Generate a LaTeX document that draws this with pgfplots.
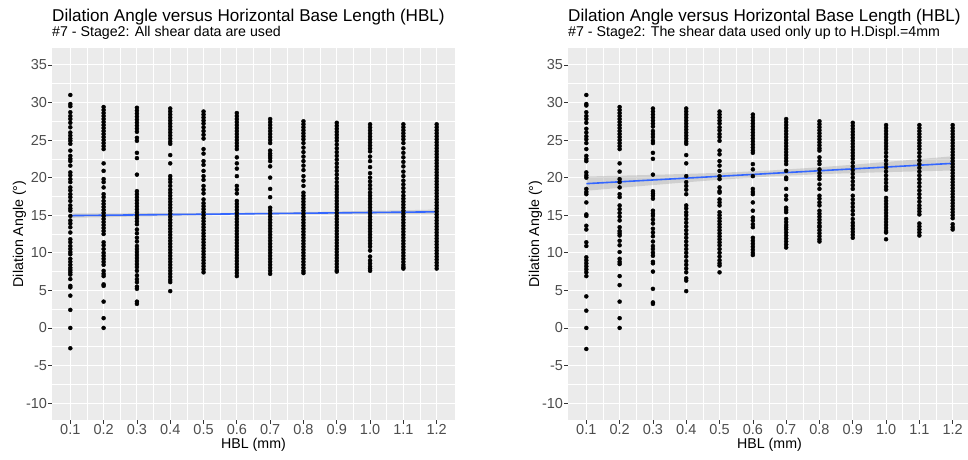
\documentclass[border=0pt]{standalone}
\usepackage{pgfplots}
\pgfplotsset{compat=1.18}
\usepackage{fontspec}
\setmainfont{Liberation Sans}
\definecolor{ggbg}{HTML}{EBEBEB}
\definecolor{gg30}{HTML}{4D4D4D}
\definecolor{gg20}{HTML}{333333}
\definecolor{ggblue}{HTML}{3366FF}
\newcommand\col[2]{\addplot[only marks,mark=*,mark size=2pt,black] table[x expr=#1,y index=0,header=false,row sep=\\]{#2};}
\pgfplotsset{gg/.style={
  scale only axis, width=403pt, height=372pt,
  xmin=0.045, xmax=1.255, ymin=-12.25, ymax=37.25,
  axis background/.style={fill=ggbg},
  axis line style={draw=none},
  xtick={0.1,0.2,0.3,0.4,0.5,0.6,0.7,0.8,0.9,1.0,1.1,1.2},
  xticklabels={0.1,0.2,0.3,0.4,0.5,0.6,0.7,0.8,0.9,1.0,1.1,1.2},
  ytick={-10,-5,0,5,10,15,20,25,30,35},
  yticklabels={-10,-5,0,5,10,15,20,25,30,35},
  minor xtick={0.15,0.25,0.35,0.45,0.55,0.65,0.75,0.85,0.95,1.05,1.15},
  minor ytick={-7.5,-2.5,2.5,7.5,12.5,17.5,22.5,27.5,32.5},
  grid=both,
  major grid style={white,line width=1.1pt},
  minor grid style={white,line width=0.55pt},
  tick align=outside, tick pos=left,
  major tick length=3.6pt, minor tick length=0pt,
  major tick style={gg20,line width=0.7pt},
  tick label style={font=\fontsize{14.5}{15}\selectfont, text=gg30},
  yticklabel style={inner sep=1.2pt},
  xticklabel style={anchor=base,yshift=-11pt},
  label style={font=\fontsize{14.2}{15}\selectfont},
  xlabel={HBL (mm)}, ylabel={Dilation Angle (°)},
  xlabel style={at={(axis description cs:0.5,0)},anchor=base,yshift=-28pt},
  ylabel style={at={(axis description cs:0,0.5)},anchor=base,yshift=29pt},
}}
\begin{document}
\begin{tikzpicture}
\path[use as bounding box] (0,0) rectangle (968pt,459pt);
\clip (0,0) rectangle (968pt,459pt);
\node[anchor=base west,inner sep=0,font=\fontsize{17.1}{18}\selectfont] at (52pt,437.3pt) {Dilation Angle versus Horizontal Base Length (HBL)};
\node[anchor=base west,inner sep=0,font=\fontsize{14.2}{15}\selectfont] at (52pt,422.3pt) {\#7 - Stage2: All shear data are used};
\node[anchor=base west,inner sep=0,font=\fontsize{17.1}{18}\selectfont] at (568pt,437.3pt) {Dilation Angle versus Horizontal Base Length (HBL)};
\node[anchor=base west,inner sep=0,font=\fontsize{14.2}{15}\selectfont] at (568pt,422.3pt) {\#7 - Stage2: The shear data used only up to H.Displ.=4mm};

\begin{axis}[gg, at={(52pt,39pt)}, anchor=south west]
\col{0.1}{31.0\\29.8\\29.5\\28.7\\28.2\\27.8\\27.3\\26.7\\26.0\\25.6\\25.2\\24.9\\24.5\\23.6\\22.9\\22.5\\22.2\\21.6\\20.7\\20.3\\19.8\\19.4\\18.7\\18.3\\17.8\\17.4\\16.9\\16.3\\15.9\\15.6\\14.9\\14.3\\13.9\\13.4\\12.7\\11.8\\11.4\\10.9\\10.5\\10.1\\9.8\\9.2\\8.8\\8.4\\8.0\\7.7\\7.4\\7.1\\6.5\\5.6\\5.4\\4.3\\2.4\\0.0\\-2.7\\}
\col{0.2}{29.4\\29.0\\28.6\\28.2\\27.8\\27.4\\27.0\\26.6\\26.2\\25.8\\25.4\\25.0\\24.6\\24.2\\23.8\\21.9\\20.9\\19.8\\19.4\\18.7\\17.8\\17.4\\16.9\\16.5\\16.1\\15.7\\15.3\\14.9\\14.5\\14.1\\13.7\\13.3\\12.9\\12.5\\11.4\\11.0\\10.5\\10.0\\9.6\\9.2\\8.8\\8.4\\7.6\\7.2\\6.9\\5.8\\5.6\\3.5\\1.3\\0.0\\}
\col{0.3}{29.3\\28.9\\28.5\\28.1\\27.7\\27.3\\26.9\\26.5\\26.1\\25.3\\24.9\\23.3\\22.6\\20.4\\18.2\\17.8\\17.4\\17.0\\16.6\\16.2\\15.8\\15.4\\15.0\\14.6\\14.2\\13.8\\13.1\\12.6\\12.0\\11.5\\10.9\\10.5\\10.1\\9.7\\9.3\\8.9\\8.5\\8.1\\7.6\\7.0\\6.5\\6.1\\5.5\\5.2\\3.5\\3.2\\}
\col{0.4}{29.2\\28.8\\28.4\\28.0\\27.6\\27.2\\26.8\\26.4\\26.0\\25.6\\25.2\\24.8\\24.5\\23.0\\21.9\\20.2\\19.8\\19.4\\18.9\\18.4\\18.0\\17.6\\17.2\\16.8\\16.4\\16.0\\15.6\\15.2\\14.8\\14.4\\14.0\\13.6\\13.2\\12.8\\12.4\\12.0\\11.6\\11.2\\10.8\\10.4\\10.0\\9.6\\9.2\\8.8\\8.4\\8.0\\7.6\\7.2\\6.8\\6.4\\6.1\\4.9\\}
\col{0.5}{28.8\\28.4\\28.0\\27.6\\27.2\\26.7\\26.2\\25.7\\25.2\\23.8\\23.2\\22.2\\21.7\\20.9\\20.2\\19.7\\18.9\\18.4\\17.9\\17.1\\16.6\\16.2\\15.8\\15.4\\15.0\\14.6\\14.2\\13.8\\13.4\\13.0\\12.6\\12.2\\11.8\\11.4\\11.0\\10.6\\10.2\\9.8\\9.4\\9.0\\8.6\\8.2\\7.8\\7.4\\}
\col{0.6}{28.6\\28.2\\27.8\\27.4\\27.0\\26.6\\26.2\\25.8\\25.4\\25.0\\24.6\\24.2\\23.8\\22.7\\21.9\\21.2\\20.2\\18.9\\18.4\\17.9\\16.9\\16.5\\16.1\\15.7\\15.3\\14.9\\14.5\\14.1\\13.7\\13.3\\12.9\\12.5\\12.1\\11.7\\11.3\\10.9\\10.5\\10.1\\9.7\\9.3\\8.9\\8.5\\8.1\\7.7\\7.3\\6.9\\}
\col{0.7}{27.8\\27.4\\27.0\\26.6\\26.2\\25.8\\25.4\\25.0\\24.6\\23.6\\23.2\\22.9\\22.6\\22.2\\21.5\\20.0\\18.5\\17.4\\16.0\\15.6\\15.2\\14.8\\14.4\\14.0\\13.6\\13.2\\12.8\\12.4\\12.0\\11.6\\11.2\\10.8\\10.4\\10.0\\9.6\\9.2\\8.8\\8.4\\8.0\\7.6\\7.2\\}
\col{0.8}{27.5\\27.1\\26.7\\26.3\\25.9\\25.5\\25.1\\24.6\\24.0\\23.4\\22.8\\22.2\\21.6\\21.0\\20.2\\19.6\\18.9\\18.0\\17.6\\17.2\\16.8\\16.4\\16.0\\15.6\\15.2\\14.8\\14.4\\14.0\\13.6\\13.2\\12.8\\12.4\\12.0\\11.6\\11.2\\10.8\\10.4\\10.0\\9.6\\9.2\\8.8\\8.4\\8.0\\7.6\\7.3\\}
\col{0.9}{27.3\\26.9\\26.5\\26.1\\25.7\\25.3\\24.9\\24.4\\23.9\\23.4\\22.9\\22.4\\21.9\\21.4\\20.9\\20.4\\19.9\\19.4\\18.9\\18.5\\18.1\\17.7\\17.3\\16.9\\16.5\\16.1\\15.7\\15.3\\14.9\\14.5\\14.1\\13.7\\13.3\\12.9\\12.5\\12.1\\11.7\\11.3\\10.9\\10.5\\10.1\\9.7\\9.3\\8.9\\8.5\\8.1\\7.7\\7.5\\}
\col{1.0}{27.1\\26.7\\26.3\\25.9\\25.5\\25.1\\24.7\\24.3\\23.9\\23.5\\22.8\\22.2\\21.4\\20.6\\20.0\\19.5\\19.0\\18.5\\18.0\\17.6\\17.2\\16.8\\16.4\\16.0\\15.6\\15.2\\14.8\\14.4\\14.0\\13.6\\13.2\\12.8\\12.4\\12.0\\11.6\\11.2\\10.8\\10.3\\9.5\\9.0\\8.6\\8.2\\7.9\\7.6\\}
\col{1.1}{27.1\\26.7\\26.3\\25.9\\25.5\\25.1\\24.6\\23.9\\23.3\\22.7\\22.1\\21.5\\20.8\\20.2\\19.6\\19.1\\18.6\\18.1\\17.6\\17.2\\16.8\\16.4\\16.0\\15.6\\15.2\\14.8\\14.4\\14.0\\13.6\\13.2\\12.8\\12.4\\12.0\\11.6\\11.2\\10.8\\10.4\\10.0\\9.6\\9.2\\8.8\\8.4\\8.1\\7.9\\}
\col{1.2}{27.1\\26.7\\26.3\\25.9\\25.5\\25.1\\24.7\\24.3\\23.9\\23.5\\23.1\\22.7\\22.3\\21.9\\21.5\\21.1\\20.7\\20.3\\19.9\\19.5\\19.1\\18.7\\18.3\\17.9\\17.5\\17.1\\16.7\\16.3\\15.9\\15.5\\15.1\\14.7\\14.3\\13.9\\13.5\\13.1\\12.7\\12.3\\11.9\\11.5\\11.1\\10.7\\10.3\\9.9\\9.5\\9.1\\8.7\\8.3\\7.9\\}
% confidence band and fitted line
\addplot[fill=gray!70,fill opacity=0.4,draw=none] coordinates {(0.1,15.25)(0.4,15.27)(0.65,15.32)(0.9,15.49)(1.2,15.75)(1.2,15.15)(0.9,15.13)(0.65,15.08)(0.4,14.91)(0.1,14.65)} -- cycle;
\addplot[ggblue,line width=1.6pt] coordinates {(0.1,14.95)(1.2,15.45)};
\end{axis}

\begin{axis}[gg, at={(568pt,39pt)}, anchor=south west]
\col{0.1}{31.0\\29.8\\29.6\\28.7\\28.2\\27.8\\27.3\\26.5\\26.0\\25.5\\25.1\\24.6\\23.8\\22.9\\22.5\\22.2\\20.7\\20.3\\20.0\\18.5\\18.1\\17.8\\16.7\\15.1\\14.9\\13.6\\13.1\\11.4\\10.9\\9.4\\9.0\\8.6\\8.2\\7.8\\7.4\\6.9\\4.2\\2.3\\0.0\\-2.8\\}
\col{0.2}{29.4\\29.0\\28.6\\28.2\\27.8\\27.4\\27.0\\26.6\\26.2\\25.8\\25.4\\25.0\\24.6\\24.2\\23.8\\21.9\\20.8\\19.8\\19.4\\18.7\\17.8\\17.4\\16.3\\15.8\\15.3\\14.8\\14.3\\13.4\\12.9\\12.6\\12.3\\11.6\\11.0\\10.1\\9.2\\8.8\\8.5\\6.9\\5.7\\3.5\\1.3\\0.0\\}
\col{0.3}{29.2\\28.8\\28.4\\28.0\\27.6\\27.2\\26.8\\26.2\\25.8\\25.4\\24.9\\24.6\\23.3\\22.5\\20.4\\18.2\\17.9\\17.6\\17.2\\15.6\\15.2\\14.9\\14.4\\13.9\\13.2\\12.7\\12.2\\11.5\\10.9\\10.5\\10.0\\9.6\\8.8\\8.6\\7.5\\5.2\\3.4\\3.2\\}
\col{0.4}{29.2\\28.8\\28.4\\28.0\\27.6\\27.2\\26.8\\26.4\\26.0\\25.6\\25.2\\24.8\\24.5\\23.0\\21.9\\20.2\\19.4\\18.9\\18.4\\17.8\\16.3\\15.9\\15.4\\15.0\\14.5\\14.0\\13.5\\13.0\\12.5\\12.0\\11.5\\11.0\\10.5\\10.0\\9.5\\8.9\\8.4\\7.9\\7.4\\6.6\\6.3\\4.9\\}
\col{0.5}{28.8\\28.4\\28.0\\27.6\\27.2\\26.7\\26.3\\25.8\\25.4\\24.9\\23.6\\23.1\\22.2\\21.6\\20.9\\20.2\\19.8\\18.7\\18.2\\18.0\\17.1\\16.7\\16.3\\15.4\\15.0\\14.6\\14.2\\13.8\\13.4\\13.0\\12.6\\12.2\\11.8\\11.4\\11.0\\10.5\\10.0\\9.5\\9.0\\8.6\\8.3\\7.4\\}
\col{0.6}{28.4\\28.0\\27.6\\27.2\\26.8\\26.4\\26.0\\25.6\\25.2\\24.8\\24.4\\24.0\\23.6\\23.3\\21.8\\21.1\\20.2\\18.5\\18.1\\17.8\\16.7\\15.6\\14.7\\14.3\\13.8\\13.4\\12.0\\11.6\\11.2\\10.8\\10.4\\10.0\\9.7\\}
\col{0.7}{27.8\\27.4\\27.0\\26.6\\26.2\\25.8\\25.4\\25.0\\24.6\\24.2\\23.8\\23.4\\23.0\\22.6\\22.2\\21.8\\20.9\\20.0\\19.8\\18.5\\17.6\\17.1\\16.0\\15.7\\15.4\\14.5\\14.1\\13.7\\13.4\\13.1\\12.7\\12.3\\11.9\\11.5\\11.1\\10.7\\}
\col{0.8}{27.5\\27.1\\26.7\\26.3\\25.9\\25.5\\25.1\\24.7\\24.3\\23.9\\23.6\\22.7\\22.2\\21.8\\21.1\\20.6\\20.2\\19.8\\19.1\\18.5\\17.6\\17.2\\16.7\\16.3\\15.6\\15.2\\14.8\\14.4\\14.0\\13.6\\13.4\\13.0\\12.6\\12.2\\11.8\\11.5\\}
\col{0.9}{27.3\\26.9\\26.5\\26.1\\25.7\\25.3\\24.9\\24.5\\24.1\\23.7\\23.3\\22.9\\22.5\\22.0\\21.5\\21.0\\20.5\\20.0\\19.5\\19.0\\18.5\\17.6\\17.1\\16.6\\16.1\\15.6\\15.1\\14.5\\14.0\\13.6\\13.2\\12.8\\12.4\\12.0\\}
\col{1.0}{27.0\\26.6\\26.2\\25.8\\25.4\\25.0\\24.6\\24.2\\23.8\\23.3\\22.8\\22.3\\21.8\\21.3\\20.8\\20.3\\19.8\\19.3\\18.8\\18.4\\17.3\\16.9\\16.5\\16.1\\15.7\\15.3\\14.9\\14.5\\14.1\\13.7\\13.3\\12.9\\12.7\\11.8\\}
\col{1.1}{27.0\\26.6\\26.2\\25.8\\25.4\\25.0\\24.6\\24.2\\23.8\\23.3\\22.8\\22.3\\21.8\\21.3\\20.8\\20.3\\19.8\\19.3\\18.8\\18.3\\17.8\\17.3\\16.8\\16.3\\15.9\\15.5\\15.1\\13.9\\13.5\\13.1\\12.7\\12.3\\}
\col{1.2}{27.0\\26.6\\26.2\\25.8\\25.4\\25.0\\24.6\\24.2\\23.8\\23.4\\23.0\\22.6\\22.2\\21.8\\21.4\\21.0\\20.6\\20.2\\19.8\\19.4\\19.0\\18.6\\18.2\\17.8\\17.4\\17.0\\16.6\\16.2\\15.8\\15.4\\15.0\\14.6\\13.8\\13.4\\13.1\\}
% confidence band and fitted line
\addplot[fill=gray!70,fill opacity=0.4,draw=none] coordinates {(0.1,20.15)(0.2,20.26)(0.3,20.37)(0.4,20.50)(0.5,20.64)(0.65,20.95)(0.8,21.38)(0.9,21.72)(1.0,22.09)(1.1,22.46)(1.2,22.85)(1.2,20.95)(1.1,20.84)(1.0,20.73)(0.9,20.60)(0.8,20.46)(0.65,20.15)(0.5,19.72)(0.4,19.38)(0.3,19.01)(0.2,18.64)(0.1,18.25)} -- cycle;
\addplot[ggblue,line width=1.6pt] coordinates {(0.1,19.2)(1.2,21.9)};
\end{axis}
\end{tikzpicture}
\end{document}
